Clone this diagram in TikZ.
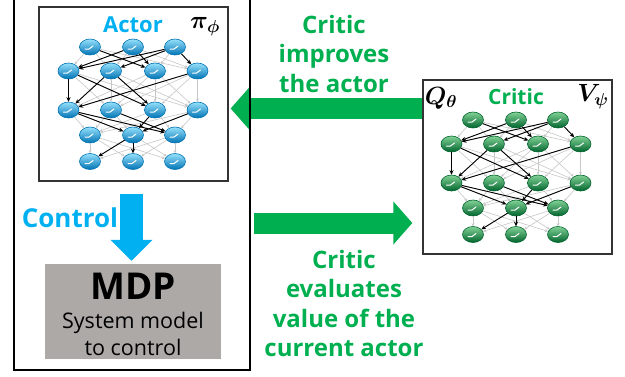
\documentclass[tikz,border=0pt]{standalone}
\usepackage{fontspec}
\setmainfont{Open Sans}
\usepackage{amsmath,bm}
\usetikzlibrary{shapes.geometric,arrows.meta,calc}
\definecolor{cyanc}{RGB}{0,176,240}
\definecolor{greenc}{RGB}{0,176,80}
\definecolor{mdpgray}{RGB}{172,169,167}
\definecolor{abtop}{RGB}{150,225,252}
\definecolor{abmid}{RGB}{30,180,238}
\definecolor{abbot}{RGB}{0,115,180}
\definecolor{cbtop}{RGB}{130,210,150}
\definecolor{cbmid}{RGB}{35,165,85}
\definecolor{cbbot}{RGB}{0,100,45}
\tikzset{
  ballbase/.style={ellipse, minimum width=21pt, minimum height=16pt, inner sep=0pt,
    draw=#1, line width=0.6pt,
    path picture={\draw[white,line width=1pt,line cap=round]
      ([shift={(-5pt,-2pt)}]path picture bounding box.center) -- ++(4pt,0pt) -- ++(4pt,3pt);}},
  actorball/.style={ballbase=abbot, top color=abtop, middle color=abmid, bottom color=abbot},
  criticball/.style={ballbase=cbbot, top color=cbtop, middle color=cbmid, bottom color=cbbot},
  grayedge/.style={draw=black!22, line width=0.6pt, -{Stealth[length=3pt,width=3pt]}},
  blackedge/.style={draw=black, line width=0.9pt, -{Stealth[length=4.5pt,width=4pt]}},
  netbox/.style={draw=black!80, line width=1.3pt, minimum width=189pt, minimum height=174pt, inner sep=0pt},
  greenarrow/.style={draw=greenc, line width=21pt, -{Triangle[length=19pt,width=42pt]}},
  cyanarrow/.style={draw=cyanc, line width=23pt, -{Triangle[length=21pt,width=41pt]}},
  greentext/.style={text=greenc, font=\bfseries\fontsize{24}{29.5}\selectfont, align=center, inner sep=0pt},
}
\newcommand\mknet[4]{%
  \foreach \i/\dx in {1/-43,2/0,3/42} \node[#4] (#1a\i) at ({#2+\dx},#3) {};
  \foreach \i/\dx in {1/-64.5,2/-22,3/22,4/64.5} \node[#4] (#1b\i) at ({#2+\dx},{#3+24}) {};
  \foreach \i/\dx in {1/-64.5,2/-22,3/22,4/64.5} \node[#4] (#1c\i) at ({#2+\dx},{#3+63}) {};
  \foreach \i/\dx in {1/-43,2/0,3/42} \node[#4] (#1d\i) at ({#2+\dx},{#3+88}) {};
  \foreach \i/\dx in {1/-43,2/0,3/42} \node[#4] (#1e\i) at ({#2+\dx},{#3+114.5}) {};
  \foreach \i in {1,2,3} \foreach \j in {1,2,3,4} \draw[grayedge] (#1a\i) -- (#1b\j);
  \foreach \i in {1,2,3,4} \foreach \j in {1,2,3,4} \draw[grayedge] (#1b\i) -- (#1c\j);
  \foreach \i in {1,2,3,4} \foreach \j in {1,2,3} \draw[grayedge] (#1c\i) -- (#1d\j);
  \foreach \i in {1,2,3} \foreach \j in {1,2,3} \draw[grayedge] (#1d\i) -- (#1e\j);
  \foreach \i/\j in {a1/b3,a2/b1,a2/b3,a3/b1,a3/b2,a3/b4,
                     b1/c1,b1/c3,b2/c1,b2/c3,b4/c1,
                     c1/d2,c1/d3,c2/d3,c3/d2,c4/d2,
                     d2/e1,d2/e2}
    \draw[blackedge] (#1\i) -- (#1\j);
}
\begin{document}
\begin{tikzpicture}[x=1pt,y=-1pt]
\useasboundingbox (0,0) rectangle (625,376);
% boxes
\node[netbox] (actorbox) at (133.5,94) {};
\node[netbox] (critic) at (517.5,167) {};
\node[fill=mdpgray, minimum width=176pt, minimum height=95pt, inner sep=0pt] (mdp) at (133,311.5) {};
% networks
\mknet{A}{133}{47}{actorball}
\mknet{C}{516}{120}{criticball}
% labels in boxes
\node[text=cyanc, font=\bfseries\fontsize{22}{26}\selectfont, inner sep=0pt] (actorlbl) at (133,25) {Actor};
\node[inner sep=0pt, font=\fontsize{24}{28}\selectfont] (pilbl) at (205,27) {$\boldsymbol{\pi}_{\boldsymbol{\phi}}$};
\node[text=greenc, font=\bfseries\fontsize{21}{25}\selectfont, inner sep=0pt] (criticlbl) at (516,97) {Critic};
\node[inner sep=0pt, font=\fontsize{23}{26}\selectfont] (qlbl) at (441,98) {$\boldsymbol{Q}_{\boldsymbol{\theta}}$};
\node[inner sep=0pt, font=\fontsize{23}{26}\selectfont] (vlbl) at (593,97) {$\boldsymbol{V}_{\boldsymbol{\psi}}$};
% MDP text
\node[font=\bfseries\fontsize{37}{40}\selectfont, inner sep=0pt, anchor=base] (mdplbl) at (133,299) {MDP};
\node[font=\fontsize{21.5}{25}\selectfont, inner sep=0pt, anchor=base] (sys1) at (133,328) {System model};
\node[font=\fontsize{21.5}{25}\selectfont, inner sep=0pt, anchor=base] (sys2) at (133,355) {to control};
% arrows
\draw[greenarrow] ($(critic.west)+(0,-58.5)$) -- ($(critic.west -| actorbox.east)+(2,-58.5)$);
\node[draw, line width=2pt, minimum width=236pt, minimum height=380pt, inner sep=0pt] (outer) at (132,180) {};
\draw[greenarrow] ($(critic.west -| outer.east)+(3,56)$) -- ($(critic.west)+(-10,56)$);
\draw[cyanarrow] ($(actorbox.south)+(-2,12)$) -- ($(mdp.north)+(-1.5,-3)$);
\node[text=cyanc, font=\bfseries\fontsize{26}{30}\selectfont, inner sep=0pt, anchor=base] (ctrl) at (70,227) {Control};
% green texts
\node[greentext, anchor=north] (imp) at (334,15) {Critic\\improves\\the actor};
\node[greentext, anchor=north] (eval) at (344,250) {Critic\\evaluates\\value of the\\current actor};
\end{tikzpicture}
\end{document}
